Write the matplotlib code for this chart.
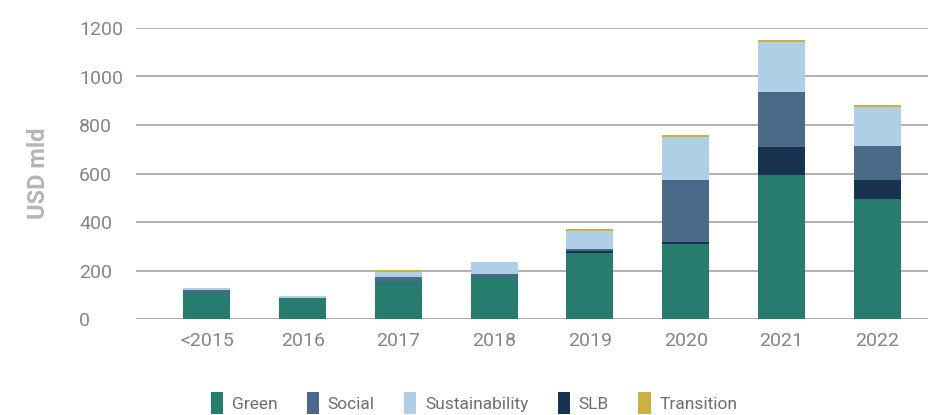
import numpy as np
import matplotlib.pyplot as plt

years = ["<2015", "2016", "2017", "2018", "2019", "2020", "2021", "2022"]
green = [107, 88, 157, 174, 273, 310, 594, 495]
slb = [0, 0, 0, 0, 6, 8, 115, 78]
social = [14, 0, 17, 12, 10, 255, 227, 140]
sustainability = [7, 7, 21, 49, 75, 179, 208, 161]
transition = [0, 0, 7, 0, 8, 7, 7, 7]

colors = {
    "Green": "#267d6e",
    "Social": "#4b6a8a",
    "Sustainability": "#afcfe6",
    "SLB": "#183250",
    "Transition": "#cdb042",
}

plt.rcParams["font.family"] = ["Roboto", "DejaVu Sans"]


def main():
    fig = plt.figure(figsize=(9.29, 4.15), dpi=100)
    ax = fig.add_axes([136 / 929, 1 - 319 / 415, 1 - 136 / 929, (319 - 28) / 415])

    x = np.arange(len(years))
    width = 0.49
    bottom = np.zeros(len(years))
    series = [("Green", green), ("SLB", slb), ("Social", social),
              ("Sustainability", sustainability), ("Transition", transition)]
    handles = {}
    for name, vals in series:
        b = ax.bar(x, vals, width, bottom=bottom, color=colors[name], label=name, zorder=3)
        handles[name] = b
        bottom += np.array(vals)

    ax.set_xlim(-0.74, 7.54)
    ax.set_ylim(0, 1200)
    ax.set_yticks(range(0, 1201, 200))
    ax.set_xticks(x)
    ax.set_xticklabels(years)
    ax.yaxis.grid(True, color="#b0b0b0", linewidth=1.4, zorder=0)
    ax.set_axisbelow(True)
    for s in ax.spines.values():
        s.set_visible(False)
    ax.tick_params(axis="both", length=0, labelsize=14, labelcolor="#858585")
    ax.tick_params(axis="y", pad=41)
    ax.tick_params(axis="x", pad=9)
    for lab in ax.get_yticklabels():
        lab.set_horizontalalignment("left")
    ax.set_ylabel("USD mld", fontsize=17, fontweight="bold", color="#b5b5b5")
    ax.yaxis.set_label_coords(-86 / 793, 0.5)

    order = ["Green", "Social", "Sustainability", "SLB", "Transition"]
    fig.legend([handles[n] for n in order], order, loc="center",
               bbox_to_anchor=(474 / 929, 1 - 403 / 415), ncol=5, frameon=False,
               fontsize=12.5, labelcolor="#6e6e6e", handlelength=0.7, handleheight=1.6,
               handletextpad=0.5, columnspacing=1.7)

    fig.savefig("out.png", dpi=100)


if __name__ == "__main__":
    main()
